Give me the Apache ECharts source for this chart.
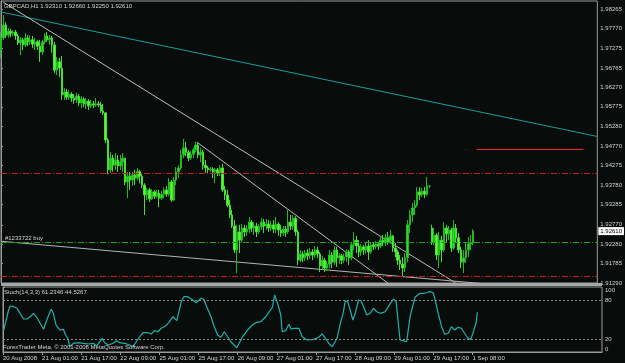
<!DOCTYPE html>
<html><head><meta charset="utf-8">
<script src="https://cdn.jsdelivr.net/npm/echarts@6/dist/echarts.min.js"></script>
<style>html,body{margin:0;padding:0;background:#080c0b;}#c{width:625px;height:363px;}</style>
</head><body><div id="c"></div>
<script>
const symbolTitle = 'GBPCAD,H1 1.92310 1.92660 1.92250 1.92610';
const stochTitle = 'Stoch(14,3,3) 61.2346 44.5267';
const copyright = 'ForexTrader Meta, \u00a9 2001-2008 MetaQuotes Software Corp.';
const orderLabel = '#1233722 buy';

const opens = [1.9722,1.9753,1.9786,1.9760,1.9770,1.9765,1.9768,1.9758,1.9740,1.9748,
1.9735,1.9753,1.9743,1.9748,1.9737,1.9743,1.9732,1.9717,1.9743,1.9758,
1.9748,1.9753,1.9735,1.9671,1.9692,1.9676,1.9608,1.9615,1.9602,1.9610,
1.9600,1.9595,1.9605,1.9587,1.9597,1.9585,1.9592,1.9580,1.9585,1.9582,
1.9585,1.9582,1.9567,1.9562,1.9493,1.9417,1.9447,1.9429,1.9442,1.9427,
1.9437,1.9447,1.9386,1.9401,1.9391,1.9404,1.9396,1.9412,1.9401,1.9378,
1.9353,1.9366,1.9343,1.9361,1.9350,1.9358,1.9345,1.9355,1.9366,1.9355,
1.9386,1.9340,1.9391,1.9412,1.9422,1.9455,1.9473,1.9462,1.9447,1.9457,
1.9468,1.9480,1.9455,1.9462,1.9429,1.9422,1.9417,1.9419,1.9412,1.9417,
1.9409,1.9422,1.9366,1.9353,1.9327,1.9302,1.9274,1.9213,1.9259,1.9238,
1.9269,1.9259,1.9266,1.9284,1.9269,1.9274,1.9259,1.9272,1.9284,1.9274,
1.9279,1.9269,1.9277,1.9266,1.9279,1.9264,1.9256,1.9266,1.9259,1.9284,
1.9274,1.9294,1.9259,1.9187,1.9203,1.9193,1.9205,1.9198,1.9208,1.9200,
1.9213,1.9203,1.9172,1.9187,1.9167,1.9177,1.9200,1.9182,1.9213,1.9193,
1.9198,1.9187,1.9195,1.9208,1.9193,1.9226,1.9238,1.9223,1.9208,1.9221,
1.9213,1.9223,1.9208,1.9226,1.9221,1.9228,1.9223,1.9238,1.9231,1.9244,
1.9236,1.9249,1.9218,1.9208,1.9187,1.9177,1.9167,1.9193,1.9277,1.9302,
1.9320,1.9327,1.9361,1.9353,1.9363,1.9355,1.9376,1.9269,1.9233,1.9251,
1.9200,1.9238,1.9213,1.9269,1.9254,1.9264,1.9218,1.9269,1.9244,1.9213,
1.9182,1.9193,1.9213,1.9228,1.92310];

const closes = [1.9753,1.9786,1.9760,1.9770,1.9765,1.9768,1.9758,1.9740,1.9748,1.9735,
1.9753,1.9743,1.9748,1.9737,1.9743,1.9732,1.9717,1.9743,1.9758,1.9748,
1.9753,1.9735,1.9671,1.9692,1.9676,1.9608,1.9615,1.9602,1.9610,1.9600,
1.9595,1.9605,1.9587,1.9597,1.9585,1.9592,1.9580,1.9585,1.9582,1.9585,
1.9582,1.9567,1.9562,1.9493,1.9417,1.9447,1.9429,1.9442,1.9427,1.9437,
1.9447,1.9386,1.9401,1.9391,1.9404,1.9396,1.9412,1.9401,1.9378,1.9353,
1.9366,1.9343,1.9361,1.9350,1.9358,1.9345,1.9355,1.9366,1.9355,1.9386,
1.9340,1.9391,1.9412,1.9422,1.9455,1.9473,1.9462,1.9447,1.9457,1.9468,
1.9480,1.9455,1.9462,1.9429,1.9422,1.9417,1.9419,1.9412,1.9417,1.9409,
1.9422,1.9366,1.9353,1.9327,1.9302,1.9274,1.9213,1.9259,1.9238,1.9269,
1.9259,1.9266,1.9284,1.9269,1.9274,1.9259,1.9272,1.9284,1.9274,1.9279,
1.9269,1.9277,1.9266,1.9279,1.9264,1.9256,1.9266,1.9259,1.9284,1.9274,
1.9294,1.9259,1.9187,1.9203,1.9193,1.9205,1.9198,1.9208,1.9200,1.9213,
1.9203,1.9172,1.9187,1.9167,1.9177,1.9200,1.9182,1.9213,1.9193,1.9198,
1.9187,1.9195,1.9208,1.9193,1.9226,1.9238,1.9223,1.9208,1.9221,1.9213,
1.9223,1.9208,1.9226,1.9221,1.9228,1.9223,1.9238,1.9231,1.9244,1.9236,
1.9249,1.9218,1.9208,1.9187,1.9177,1.9167,1.9193,1.9277,1.9302,1.9320,
1.9327,1.9361,1.9353,1.9363,1.9355,1.9376,1.9376,1.9233,1.9251,1.9200,
1.9238,1.9213,1.9269,1.9254,1.9264,1.9218,1.9269,1.9244,1.9213,1.9182,
1.9193,1.9213,1.9228,1.9231,1.92610];

const highs = [1.9768,1.9811,1.9793,1.9778,1.9776,1.9773,1.9773,1.9763,1.9755,1.9753,
1.9765,1.9760,1.9760,1.9758,1.9753,1.9748,1.9748,1.9748,1.9765,1.9768,
1.9760,1.9758,1.9743,1.9704,1.9702,1.9707,1.9625,1.9623,1.9620,1.9615,
1.9610,1.9613,1.9610,1.9605,1.9602,1.9600,1.9597,1.9595,1.9592,1.9600,
1.9592,1.9590,1.9585,1.9564,1.9498,1.9462,1.9455,1.9460,1.9455,1.9455,
1.9460,1.9447,1.9412,1.9412,1.9412,1.9417,1.9422,1.9417,1.9406,1.9383,
1.9371,1.9371,1.9368,1.9366,1.9366,1.9366,1.9363,1.9373,1.9376,1.9396,
1.9391,1.9399,1.9424,1.9429,1.9468,1.9496,1.9488,1.9468,1.9465,1.9473,
1.9488,1.9488,1.9473,1.9468,1.9442,1.9427,1.9424,1.9424,1.9422,1.9422,
1.9429,1.9432,1.9376,1.9366,1.9340,1.9315,1.9289,1.9277,1.9277,1.9279,
1.9277,1.9277,1.9297,1.9289,1.9284,1.9282,1.9279,1.9294,1.9292,1.9292,
1.9289,1.9287,1.9289,1.9297,1.9284,1.9277,1.9274,1.9274,1.9315,1.9302,
1.9302,1.9299,1.9264,1.9213,1.9210,1.9213,1.9215,1.9218,1.9215,1.9223,
1.9221,1.9208,1.9198,1.9193,1.9185,1.9213,1.9208,1.9223,1.9221,1.9205,
1.9203,1.9203,1.9215,1.9213,1.9233,1.9259,1.9249,1.9238,1.9228,1.9226,
1.9231,1.9238,1.9233,1.9233,1.9236,1.9233,1.9249,1.9251,1.9254,1.9259,
1.9264,1.9251,1.9231,1.9213,1.9200,1.9195,1.9205,1.9289,1.9315,1.9333,
1.9340,1.9373,1.9373,1.9371,1.9373,1.9399,1.9378,1.9277,1.9269,1.9256,
1.9259,1.9249,1.9284,1.9277,1.9274,1.9269,1.9289,1.9279,1.9256,1.9221,
1.9213,1.9231,1.9246,1.9251,1.92660];

const lows = [1.9702,1.9748,1.9753,1.9753,1.9755,1.9758,1.9748,1.9735,1.9709,1.9722,
1.9730,1.9732,1.9735,1.9727,1.9722,1.9722,1.9692,1.9709,1.9737,1.9743,
1.9735,1.9715,1.9664,1.9658,1.9653,1.9595,1.9595,1.9595,1.9595,1.9590,
1.9585,1.9587,1.9580,1.9574,1.9577,1.9572,1.9569,1.9574,1.9574,1.9577,
1.9577,1.9562,1.9557,1.9485,1.9406,1.9409,1.9412,1.9417,1.9412,1.9417,
1.9412,1.9378,1.9345,1.9366,1.9376,1.9378,1.9391,1.9383,1.9371,1.9302,
1.9340,1.9335,1.9340,1.9343,1.9345,1.9322,1.9340,1.9345,1.9348,1.9350,
1.9335,1.9338,1.9378,1.9396,1.9417,1.9447,1.9452,1.9439,1.9442,1.9447,
1.9462,1.9447,1.9437,1.9417,1.9409,1.9409,1.9412,1.9396,1.9383,1.9401,
1.9401,1.9361,1.9340,1.9322,1.9294,1.9269,1.9205,1.9154,1.9205,1.9233,
1.9246,1.9249,1.9256,1.9259,1.9251,1.9246,1.9254,1.9264,1.9256,1.9264,
1.9259,1.9261,1.9256,1.9256,1.9249,1.9246,1.9249,1.9246,1.9254,1.9264,
1.9264,1.9249,1.9175,1.9182,1.9182,1.9185,1.9187,1.9190,1.9187,1.9193,
1.9193,1.9157,1.9162,1.9157,1.9159,1.9167,1.9167,1.9175,1.9170,1.9177,
1.9177,1.9180,1.9182,1.9175,1.9187,1.9213,1.9205,1.9195,1.9198,1.9200,
1.9203,1.9187,1.9203,1.9213,1.9215,1.9213,1.9218,1.9223,1.9223,1.9226,
1.9228,1.9208,1.9195,1.9175,1.9162,1.9144,1.9157,1.9182,1.9256,1.9284,
1.9302,1.9322,1.9340,1.9348,1.9345,1.9350,1.9371,1.9226,1.9226,1.9187,
1.9167,1.9182,1.9208,1.9233,1.9238,1.9208,1.9213,1.9233,1.9205,1.9167,
1.9154,1.9180,1.9195,1.9213,1.92250];

const lastPrice = 1.92610;
const priceTicks = [1.91290,1.91785,1.92280,1.92770,1.93285,1.93780,1.94275,1.94770,1.95280,1.95775,1.96270,1.96765,1.97275,1.97770,1.98265];
const priceMin = 1.91289;
const priceMax = 1.98469;

const timeTickBars = [0,16,32,48,64,80,96,112,128,144,160,176,192];
const timeTickLabels = ['20 Aug 2008','21 Aug 01:00','21 Aug 17:00','22 Aug 09:00','25 Aug 01:00','25 Aug 17:00','26 Aug 09:00','27 Aug 01:00','27 Aug 17:00','28 Aug 09:00','29 Aug 01:00','29 Aug 17:00','1 Sep 08:00'];

const stochBars = [0.3,2.3,3.0,4.4,5.7,7.0,8.4,9.8,11.1,12.5,
13.8,15.2,16.6,17.9,19.7,20.6,21.7,23.3,24.7,25.6,
26.5,27.4,28.8,30.8,32.8,34.9,36.9,38.3,39.6,40.6,
41.6,43.0,45.1,46.4,47.7,49.8,51.8,53.2,54.5,55.9,
57.3,59.3,60.6,62.0,63.4,64.7,66.7,68.1,69.5,70.1,
71.1,71.8,72.9,74.0,75.6,77.6,79.0,81.0,82.1,83.4,
85.1,86.4,87.8,89.1,90.5,91.9,93.2,94.5,95.6,96.6,
98.0,100.0,102.0,103.4,105.4,107.5,110.2,111.1,112.5,113.6,
114.2,115.6,116.9,117.9,119.0,121.0,122.4,124.4,127.1,129.1,
130.5,131.9,133.2,134.6,135.9,136.6,138.0,139.1,140.0,141.0,
142.0,143.1,144.1,145.4,146.4,147.5,148.8,150.2,151.5,152.9,
154.3,156.3,157.6,159.7,160.8,162.4,163.7,165.1,166.5,168.5,
170.5,171.9,173.3,174.6,175.9,176.6,178.0,179.4,180.7,182.1,
183.4,184.8,186.1,187.5,188.8,190.2,191.3,192.2,193.6,194.0];
const stochK = [33.8,64.6,70.8,69.7,67.2,59.5,50.8,50.8,54.3,59.5,
53.4,44.2,34.9,49.2,65.7,59.5,41.5,33.8,34.9,26.2,
21.1,8.2,13.4,14.3,13.4,12.3,13.4,9.2,15.8,21.1,
14.3,10.8,13.4,17.4,14.3,13.4,10.8,8.2,15.8,23.5,
29.7,29.7,27.7,32.8,31.2,36.5,40.5,46.6,54.3,56.9,
48.2,50.3,77.4,85.1,85.1,80,75.8,82.6,81.1,68.8,
54.3,38.9,26.2,22.6,31.2,23.5,15.8,10.8,6.6,13.4,
23.5,33.8,41.5,45.1,46.6,54.3,68.8,87.7,72.3,56.9,
31.2,32.8,42.6,34.9,36.5,36.5,23.5,18.5,19.5,22.6,
27.7,21.1,13.4,8.2,15.8,21.1,44.2,59.5,78.9,77.4,
64.6,49.2,59.5,80,78.9,69.7,56.9,59.5,67.2,62,
59.5,62,69.7,81.5,77.4,18.5,17.4,15.8,54.3,84.2,
90.3,90.3,91.2,92.8,91.2,82.6,59.5,38.9,27.2,28.8,
38.9,33.8,38,36.5,28.8,21.1,19.5,28.8,46.6,61.2];
const stochLevels = [20, 80];
const stochTicks = [0, 20, 80, 100];

const redLevels = [1.94077, 1.91455];
const orderPrice = 1.92320;
const targetBars = [195.4, 239.3];
const targetPrice = 1.94688;
const cyanBars = [0, 245], cyanPrices = [1.9819, 1.9502];
const steep1Bars = [0.9, 186.8], steep1Prices = [1.9844, 1.9129];
const steep2Bars = [80.6, 159.1], steep2Prices = [1.9487, 1.9128];
const lowerBars = [0.4, 200.2], lowerPrices = [1.9235, 1.9126];

const N = 246;
const cats = Array.from({length: N}, (_, i) => String(i));
const candle = opens.map((o, i) => [o, closes[i], lows[i], highs[i]]);
const stoch = stochBars.map((b, i) => [b, stochK[i]]);
const pair = (xs, ys) => xs.map((x, i) => [x, ys[i]]);
const level = p => [[0, p], [N - 1, p]];

const frame = '#9c9c9c';
const txt = '#d4d4d4';
const font = '"Liberation Sans", Arial, sans-serif';
const small = {color: txt, fontSize: 6, fontFamily: font, fontWeight: 'normal'};
const redDash = {color: '#d01a1a', type: [6, 2, 1, 2], width: 1, opacity: 1};
const greenDash = {color: '#14a814', type: [6, 2, 1, 2], width: 1, opacity: 1};
const targetStyle = {color: '#ff2020', type: 'solid', width: 1, opacity: 1};

const overlay = (data, lineStyle) => ({
  type: 'line', xAxisIndex: 1, yAxisIndex: 0, data, symbol: 'none', silent: true,
  color: lineStyle.color, lineStyle: Object.assign({width: 1}, lineStyle), clip: true, z: 3
});
// invisible carrier series that hosts horizontal marker lines / labels
const carrier = (p, color, markLine, markPoint) => ({
  type: 'line', xAxisIndex: 1, yAxisIndex: 0, data: level(p), symbol: 'none', silent: true,
  color, lineStyle: {opacity: 0}, z: 3,
  markLine: Object.assign({symbol: 'none', silent: true, animation: false, precision: 6, label: {show: false}}, markLine),
  markPoint: markPoint ? Object.assign({silent: true, animation: false, symbol: 'circle', symbolSize: 0}, markPoint) : undefined
});

const chart = echarts.init(document.getElementById('c'), null, {renderer: 'canvas', width: 625, height: 363});
chart.setOption({
  backgroundColor: '#080c0b',
  animation: false,
  title: [
    {text: symbolTitle, left: 4, top: 3, padding: 0, textStyle: small},
    {text: stochTitle, left: 4, top: 289, padding: 0, textStyle: small},
    {text: copyright, left: 3, top: 344, padding: 0, textStyle: small}
  ],
  grid: [
    {left: 1, top: 1, width: 601, height: 282, show: true, borderColor: frame, borderWidth: 1, backgroundColor: 'transparent'},
    {left: 1, top: 287, width: 601, height: 65, show: true, borderColor: frame, borderWidth: 1, backgroundColor: 'transparent'}
  ],
  graphic: [
    {type: 'rect', shape: {x: 1, y: 283, width: 601, height: 3}, style: {fill: '#a6a6a6'}, z: 10}
  ],
  xAxis: [
    {type: 'category', gridIndex: 0, data: cats, boundaryGap: false, axisLine: {show: false}, axisTick: {show: false}, axisLabel: {show: false}, splitLine: {show: false}},
    {type: 'value', gridIndex: 0, min: 0, max: N - 1, show: false},
    {type: 'value', gridIndex: 1, min: 0, max: N - 1, position: 'bottom',
     axisLine: {show: true, lineStyle: {color: frame}},
     axisTick: {show: true, customValues: timeTickBars, length: 3, lineStyle: {color: frame}},
     axisLabel: {show: true, customValues: timeTickBars, formatter: v => timeTickLabels[timeTickBars.indexOf(v)], align: 'left', margin: 3, ...small},
     splitLine: {show: false}}
  ],
  yAxis: [
    {type: 'value', gridIndex: 0, position: 'right', min: priceMin, max: priceMax, scale: true,
     axisLine: {show: true, lineStyle: {color: frame}},
     axisTick: {show: true, customValues: priceTicks, length: 2, lineStyle: {color: frame}},
     axisLabel: {show: true, customValues: priceTicks, formatter: v => v.toFixed(5), margin: 3, ...small},
     splitLine: {show: false}},
    {type: 'value', gridIndex: 1, position: 'right', min: 0, max: 100,
     axisLine: {show: true, lineStyle: {color: frame}},
     axisTick: {show: true, customValues: stochTicks, length: 2, lineStyle: {color: frame}},
     axisLabel: {show: true, customValues: stochTicks, margin: 3, verticalAlignMinLabel: 'bottom', verticalAlignMaxLabel: 'top', ...small},
     splitLine: {show: false}}
  ],
  series: [
    carrier(lastPrice, '#d01a1a',
      {lineStyle: redDash, data: redLevels.map(v => ({yAxis: v}))},
      {data: [{coord: [N - 1, lastPrice], label: {show: true, position: 'right', distance: 1,
        formatter: lastPrice.toFixed(5), backgroundColor: '#ffffff', color: '#000000', fontSize: 6, fontFamily: font, padding: [1, 2, 1, 2]}}]}),
    carrier(orderPrice, '#14a814',
      {lineStyle: greenDash, data: [{yAxis: orderPrice}]},
      {data: [{coord: [0.8, orderPrice], label: {show: true, position: [2, -7], formatter: orderLabel, ...small}}]}),
    carrier(targetPrice, '#ff2020',
      {lineStyle: targetStyle, data: [[{coord: [targetBars[0], targetPrice]}, {coord: [targetBars[1], targetPrice]}]]}),
    {type: 'candlestick', xAxisIndex: 0, yAxisIndex: 0, data: candle, barWidth: 2, z: 4,
     itemStyle: {color: '#2fd82f', color0: '#5cfa3c', borderColor: '#22b822', borderColor0: '#46e032', borderWidth: 1}},
    overlay(pair(cyanBars, cyanPrices), {color: '#17a09a'}),
    overlay(pair(steep1Bars, steep1Prices), {color: '#bdbdbd'}),
    overlay(pair(steep2Bars, steep2Prices), {color: '#bdbdbd'}),
    overlay(pair(lowerBars, lowerPrices), {color: '#b4b4b4'}),
    {type: 'line', xAxisIndex: 2, yAxisIndex: 1, data: stoch, symbol: 'none', silent: true,
     color: '#20b2aa', lineStyle: {color: '#20b2aa', width: 1.2},
     markLine: {symbol: 'none', silent: true, animation: false,
       lineStyle: {color: '#8c8c8c', type: [2, 2], width: 1}, label: {show: false},
       data: stochLevels.map(v => ({yAxis: v}))}}
  ]
});
</script></body></html>
